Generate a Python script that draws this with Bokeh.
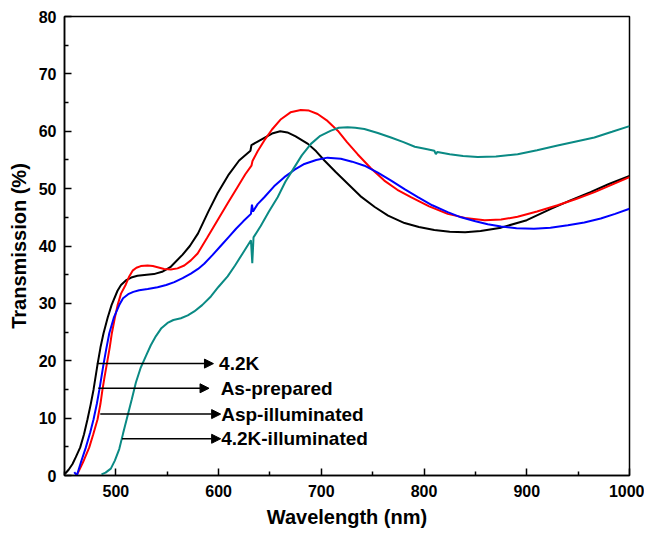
from bokeh.plotting import figure
from bokeh.models import Range1d, Arrow, NormalHead, Label, FixedTicker
from bokeh.embed import file_html
from bokeh.resources import INLINE

# ---- data ----
wl_42k = [450.5, 454.0, 457.8, 461.0, 465.3, 469.0, 472.4, 475.5, 478.3, 482.2, 485.0, 488.0,
          492.0, 495.8, 501.6, 505.0, 509.7, 515.0, 521.0, 530.0, 537.0, 545.0, 553.0, 565.0,
          572.0, 580.0, 590.0, 599.0, 610.0, 620.0, 631.0, 632.0, 638.0, 645.0, 652.0, 660.0,
          667.0, 675.0, 687.0, 695.0, 703.0, 714.0, 726.0, 738.0, 752.0, 765.0, 781.0, 795.0,
          810.0, 825.0, 840.0, 855.0, 875.0, 900.0, 924.0, 943.0, 962.0, 980.0, 1000.0]
tr_42k = [0.3, 1.0, 2.0, 3.2, 4.9, 7.2, 9.8, 12.4, 15.0, 19.4, 22.3, 24.8,
          27.5, 29.7, 32.2, 33.2, 34.0, 34.5, 34.8, 35.0, 35.1, 35.5, 36.3, 38.5,
          40.0, 42.2, 46.0, 49.2, 52.5, 54.9, 56.6, 57.6, 58.2, 58.9, 59.6, 60.0,
          59.8, 59.1, 57.8, 56.5, 54.9, 52.9, 50.8, 48.7, 46.8, 45.3, 44.0, 43.3,
          42.8, 42.5, 42.4, 42.6, 43.2, 44.5, 46.5, 48.0, 49.4, 50.8, 52.2]

wl_asp = [461.5, 464.0, 468.0, 474.1, 478.0, 482.2, 485.0, 487.0, 489.0, 491.2, 494.0, 496.1,
          499.0, 501.7, 505.0, 509.7, 513.0, 516.3, 520.0, 524.3, 530.9, 536.0, 540.6, 547.0,
          553.5, 560.0, 566.6, 573.0, 579.6, 589.0, 599.0, 609.0, 618.5, 626.0, 632.0, 633.0,
          638.0, 644.5, 652.0, 660.7, 670.0, 680.0, 688.0, 696.4, 706.0, 716.0, 725.0, 735.3,
          748.0, 761.3, 774.0, 787.2, 805.0, 823.0, 840.0, 859.0, 875.0, 891.0, 910.0, 930.0,
          948.0, 966.0, 983.0, 1000.0]
tr_asp = [0.0, 0.8, 2.3, 4.9, 7.2, 9.8, 12.5, 15.0, 17.2, 19.4, 22.3, 24.8,
          27.5, 29.7, 31.7, 33.3, 34.7, 35.7, 36.2, 36.5, 36.6, 36.5, 36.3, 36.0,
          35.9, 36.1, 36.6, 37.5, 38.7, 41.5, 44.5, 47.5, 50.3, 52.5, 54.0, 54.8,
          56.5, 58.4, 60.3, 62.1, 63.3, 63.7, 63.6, 63.0, 61.8, 60.1, 58.1, 56.0,
          53.6, 51.4, 49.8, 48.5, 46.9, 45.6, 44.9, 44.5, 44.6, 45.1, 46.0, 47.1,
          48.2, 49.4, 50.7, 52.0]

wl_aspi = [459.5, 462.0, 466.0, 470.8, 475.0, 478.3, 481.5, 484.0, 488.0, 490.8, 493.6, 498.0,
           503.3, 507.0, 512.0, 517.0, 522.7, 531.0, 540.6, 549.0, 556.9, 565.0, 573.0, 580.0,
           586.0, 594.0, 602.0, 610.0, 617.0, 624.0, 631.5, 632.5, 633.5, 638.0, 644.5, 654.0,
           664.0, 674.0, 683.5, 695.0, 706.0, 719.0, 730.0, 742.0, 755.0, 768.0, 781.0, 794.0,
           808.0, 823.0, 836.0, 850.0, 862.0, 875.0, 890.0, 907.0, 923.0, 940.0, 956.0, 972.0,
           986.0, 1000.0]
tr_aspi = [0.6, 0.0, 2.3, 4.9, 7.5, 9.8, 12.5, 15.0, 19.4, 22.2, 24.8, 27.5,
           29.7, 30.9, 31.6, 32.0, 32.3, 32.5, 32.8, 33.2, 33.7, 34.4, 35.2, 36.0,
           36.9, 38.4, 40.0, 41.6, 43.0, 44.3, 45.6, 47.2, 46.0, 47.3, 48.5, 50.4,
           52.0, 53.3, 54.3, 55.0, 55.4, 55.2, 54.7, 54.0, 52.8, 51.4, 49.9, 48.5,
           47.1, 45.9, 45.0, 44.3, 43.8, 43.4, 43.1, 43.0, 43.2, 43.6, 44.1, 44.8,
           45.6, 46.5]

wl_42ki = [486.0, 490.0, 495.1, 499.0, 503.3, 507.0, 511.4, 515.5, 519.5, 524.0, 529.2, 534.0,
           539.0, 544.0, 550.3, 556.0, 563.3, 570.0, 576.3, 584.0, 592.5, 600.0, 608.8, 616.0,
           623.4, 631.5, 632.8, 634.0, 641.0, 649.0, 657.5, 665.0, 673.7, 681.0, 689.9, 699.0,
           709.4, 717.0, 725.6, 733.0, 741.9, 755.0, 767.8, 780.0, 791.0, 802.0, 810.0, 811.5,
           813.0, 825.0, 838.0, 852.2, 870.0, 891.1, 910.0, 930.0, 948.0, 965.8, 983.0, 1000.0]
tr_42ki = [0.2, 0.5, 1.2, 2.6, 4.6, 7.3, 10.4, 13.3, 16.2, 18.7, 20.8, 22.7,
           24.3, 25.6, 26.6, 27.1, 27.4, 27.9, 28.6, 29.7, 31.2, 32.9, 34.7, 36.6,
           38.7, 41.0, 37.0, 41.5, 43.5, 46.0, 48.5, 51.2, 53.7, 55.8, 57.8, 59.2,
           60.1, 60.6, 60.7, 60.6, 60.4, 59.7, 58.9, 58.1, 57.3, 56.9, 56.6, 56.0,
           56.4, 56.0, 55.7, 55.5, 55.6, 56.0, 56.7, 57.5, 58.2, 58.9, 59.9, 60.9]

series_names = ["4.2K", "As-prepared", "Asp-illuminated", "4.2K-illuminated"]
series_colors = ["#000000", "#ff0000", "#0000ff", "#0a8a84"]

# annotation arrows: start wavelength, end wavelength, level, text start
arrow_x0 = [481.5, 482.9, 484.8, 506.0]
arrow_x1 = [595.0, 590.7, 602.0, 602.0]
arrow_y = [19.5, 15.2, 10.7, 6.4]
label_x = [600.5, 602.0, 602.5, 602.5]

x_ticks = [500, 600, 700, 800, 900, 1000]
x_minor = [450, 550, 650, 750, 850, 950]
y_ticks = [0, 10, 20, 30, 40, 50, 60, 70, 80]
y_minor = [5, 15, 25, 35, 45, 55, 65, 75]

FONT = "Liberation Sans"

p = figure(width=644, height=533, output_backend="svg", toolbar_location=None,
           x_range=Range1d(450, 1000), y_range=Range1d(0, 80),
           min_border_left=64, min_border_top=16, min_border_right=15, min_border_bottom=58)

p.xgrid.visible = False
p.ygrid.visible = False
p.outline_line_color = "black"
p.outline_line_width = 1.5
p.background_fill_color = "white"
p.border_fill_color = "white"

p.xaxis.ticker = FixedTicker(ticks=x_ticks, minor_ticks=x_minor)
p.yaxis.ticker = FixedTicker(ticks=y_ticks, minor_ticks=y_minor)

for ax in (p.xaxis, p.yaxis):
    ax.axis_line_color = "black"
    ax.axis_line_width = 1.5
    ax.major_tick_in = 7
    ax.major_tick_out = 0
    ax.minor_tick_in = 4
    ax.minor_tick_out = 0
    ax.major_tick_line_width = 1.5
    ax.minor_tick_line_width = 1.5
    ax.major_label_text_font = FONT
    ax.major_label_text_font_style = "bold"
    ax.major_label_text_font_size = "16px"
    ax.major_label_text_color = "black"
    ax.axis_label_text_font = FONT
    ax.axis_label_text_font_style = "bold"
    ax.axis_label_text_font_size = "20px"
    ax.axis_label_text_color = "black"

p.xaxis.axis_label = "Wavelength (nm)"
p.yaxis.axis_label = "Transmission (%)"
p.xaxis.major_label_standoff = 9
p.xaxis.axis_label_standoff = 6
p.yaxis.major_label_standoff = 8
p.yaxis.axis_label_standoff = 6

data = [(wl_42k, tr_42k), (wl_asp, tr_asp), (wl_aspi, tr_aspi), (wl_42ki, tr_42ki)]
for (xs, ys), c in zip(data, series_colors):
    p.line(xs, ys, line_color=c, line_width=2)

for x0, x1, y, lx, name in zip(arrow_x0, arrow_x1, arrow_y, label_x, series_names):
    p.add_layout(Arrow(x_start=x0, y_start=y, x_end=x1, y_end=y, line_color="black",
                       line_width=1.5,
                       end=NormalHead(size=9, fill_color="black", line_color="black")))
    p.add_layout(Label(x=lx, y=y, text=name, text_font=FONT, text_font_style="bold",
                       text_font_size="19px", text_baseline="middle", text_color="black"))

open("out.html", "w").write(file_html(p, INLINE))
